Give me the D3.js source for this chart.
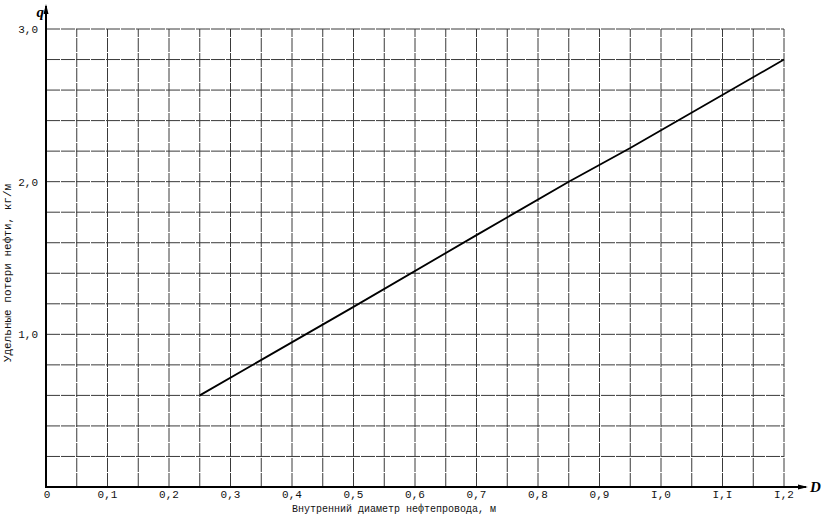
<!DOCTYPE html>
<html><head><meta charset="utf-8">
<script src="https://cdn.jsdelivr.net/npm/d3@7"></script>
<style>body{margin:0;background:#fff}svg{display:block}</style>
</head><body>
<svg id="c" width="823" height="521"></svg>
<script>
const lineD = [0.25, 0.5, 0.7, 0.85, 0.95, 1.2];
const lineQ = [0.6, 1.18, 1.65, 2.0, 2.22, 2.8];
const xTicks = [0,0.1,0.2,0.3,0.4,0.5,0.6,0.7,0.8,0.9,1.0,1.1,1.2];
const xTickLabels = ["0","0,1","0,2","0,3","0,4","0,5","0,6","0,7","0,8","0,9","I,0","I,I","I,2"];
const yTicks = [1.0,2.0,3.0];
const yTickLabels = ["1,0","2,0","3,0"];
const xTitle = "Внутренний диаметр нефтепровода, м";
const yTitle = "Удельные потери нефти, кг/м";

const svg = d3.select("#c");
const x = d3.scaleLinear().domain([0,1.2]).range([46,784]);
const y = d3.scaleLinear().domain([0,3]).range([487,29]);
const font = "'Liberation Mono', 'DejaVu Sans Mono', monospace";

// grid
const gx = d3.range(0,25).map(i=>i*0.05);
const gy = d3.range(0,16).map(i=>i*0.2);
svg.append("g").selectAll("line").data(gx).join("line")
  .attr("x1",d=>x(d)).attr("x2",d=>x(d)).attr("y1",y(0)).attr("y2",y(3))
  .attr("stroke","#3a3a3a").attr("stroke-width",1).attr("stroke-dasharray","14,1");
svg.append("g").selectAll("line").data(gy).join("line")
  .attr("x1",x(0)).attr("x2",x(1.2)).attr("y1",d=>y(d)).attr("y2",d=>y(d))
  .attr("stroke","#3a3a3a").attr("stroke-width",1).attr("stroke-dasharray","14,1");

// axes
svg.append("line").attr("x1",x(0)).attr("x2",x(0)).attr("y1",y(0)+1).attr("y2",6)
  .attr("stroke","#000").attr("stroke-width",2);
svg.append("path").attr("d",`M${x(0)-2.5},14 L${x(0)},4 L${x(0)+2.5},14 Z`).attr("fill","#000");
svg.append("line").attr("x1",x(0)-1).attr("x2",806).attr("y1",y(0)).attr("y2",y(0))
  .attr("stroke","#000").attr("stroke-width",2);
svg.append("path").attr("d",`M798,${y(0)-2.5} L808,${y(0)} L798,${y(0)+2.5} Z`).attr("fill","#000");

svg.append("text").attr("x",x(0)-2).attr("y",17).attr("text-anchor","end")
  .attr("font-family","'Liberation Serif', serif").attr("font-style","italic").attr("font-weight","bold")
  .attr("font-size",15).text("q");
svg.append("text").attr("x",810).attr("y",y(0)+5)
  .attr("font-family","'Liberation Serif', serif").attr("font-style","italic").attr("font-weight","bold")
  .attr("font-size",15).text("D");

// tick labels
svg.append("g").selectAll("text").data(xTicks).join("text")
  .attr("x",(d,i)=> i===0 ? x(d)+1 : x(d)).attr("y",y(0)+11).attr("text-anchor","middle")
  .attr("font-family",font).attr("font-size",11).attr("fill","#111")
  .text((d,i)=>xTickLabels[i]);
svg.append("g").selectAll("text").data(yTicks).join("text")
  .attr("x",x(0)-8).attr("y",d=>y(d)+4).attr("text-anchor","end")
  .attr("font-family",font).attr("font-size",11).attr("fill","#111")
  .text((d,i)=>yTickLabels[i]);

// titles
svg.append("text").attr("x",394).attr("y",512).attr("text-anchor","middle")
  .attr("font-family",font).attr("font-size",10).attr("fill","#111").text(xTitle);
svg.append("text").attr("transform","translate(11,273) rotate(-90)").attr("text-anchor","middle")
  .attr("font-family",font).attr("font-size",11).attr("fill","#111").text(yTitle);

// data line
const pts = lineD.map((d,i)=>[d,lineQ[i]]);
svg.append("path").datum(pts)
  .attr("d",d3.line().x(d=>x(d[0])).y(d=>y(d[1])))
  .attr("fill","none").attr("stroke","#000").attr("stroke-width",1.8);
</script>
</body></html>
